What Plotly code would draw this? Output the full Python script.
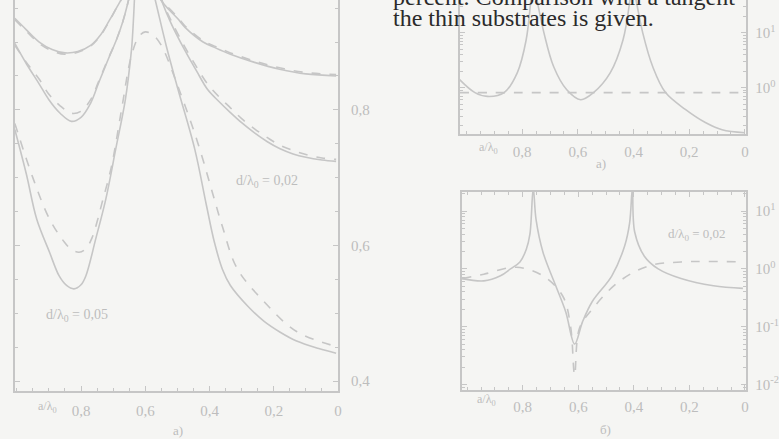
import plotly.graph_objects as go

# ---------------- data ----------------
# left panel (a): normalised value vs a/λ0, linear y
A_x = [1.006, 0.97, 0.93, 0.89, 0.85, 0.81, 0.77, 0.74, 0.714, 0.69, 0.662, 0.615,
       0.569, 0.54, 0.50, 0.477, 0.42, 0.38, 0.335, 0.26, 0.182, 0.10, 0.006]
A_solid = [0.935, 0.918, 0.900, 0.889, 0.884, 0.886, 0.895, 0.910, 0.930, 0.950, 0.975, 1.04,
           0.975, 0.955, 0.935, 0.922, 0.900, 0.891, 0.882, 0.870, 0.860, 0.853, 0.850]
A_dash = [0.933, 0.916, 0.898, 0.887, 0.882, 0.885, 0.894, 0.909, 0.929, 0.950, 0.975, 1.04,
          0.976, 0.957, 0.937, 0.924, 0.902, 0.893, 0.884, 0.872, 0.862, 0.855, 0.852]

B_x = [1.006, 0.97, 0.93, 0.90, 0.865, 0.83, 0.80, 0.77, 0.745, 0.715, 0.69, 0.67, 0.652, 0.61,
       0.55, 0.52, 0.477, 0.44, 0.406, 0.37, 0.335, 0.30, 0.26, 0.22, 0.182, 0.14, 0.10, 0.05, 0.006]
B_solid = [0.898, 0.868, 0.838, 0.815, 0.795, 0.783, 0.789, 0.810, 0.840, 0.875, 0.903, 0.930, 0.962, 1.05,
           0.962, 0.928, 0.888, 0.857, 0.830, 0.812, 0.796, 0.781, 0.766, 0.753, 0.743, 0.735, 0.730, 0.726, 0.724]
B_dash = [0.895, 0.870, 0.845, 0.823, 0.806, 0.795, 0.798, 0.815, 0.842, 0.876, 0.903, 0.930, 0.962, 1.05,
          0.964, 0.932, 0.893, 0.863, 0.838, 0.819, 0.803, 0.787, 0.772, 0.759, 0.748, 0.740, 0.734, 0.729, 0.727]

C_x = [1.006, 0.97, 0.938, 0.898, 0.868, 0.845, 0.822, 0.800, 0.785, 0.754, 0.723, 0.692, 0.662, 0.643, 0.615,
       0.569, 0.535, 0.498, 0.446, 0.41, 0.385, 0.36, 0.335, 0.28, 0.23, 0.18, 0.129, 0.06, 0.006]
C_solid = [0.771, 0.705, 0.639, 0.590, 0.555, 0.541, 0.536, 0.542, 0.555, 0.610, 0.668, 0.742, 0.815, 0.888, 1.05,
           0.962, 0.895, 0.830, 0.742, 0.660, 0.605, 0.565, 0.541, 0.510, 0.488, 0.472, 0.459, 0.448, 0.441]
Cd_x = [1.006, 0.95, 0.898, 0.852, 0.830, 0.806, 0.785, 0.765, 0.75, 0.735, 0.705, 0.674, 0.643, 0.620, 0.60,
        0.575, 0.55, 0.498, 0.437, 0.385, 0.36, 0.314, 0.23, 0.129, 0.006]
C_dash = [0.78, 0.70, 0.639, 0.605, 0.594, 0.590, 0.595, 0.612, 0.635, 0.662, 0.717, 0.80, 0.880, 0.908, 0.915,
          0.910, 0.895, 0.834, 0.752, 0.668, 0.628, 0.566, 0.517, 0.473, 0.451]

# upper right panel (a): log y
U_x = [1.025, 0.97, 0.925, 0.865, 0.818, 0.786, 0.769, 0.762, 0.747, 0.722, 0.687, 0.64, 0.59, 0.544,
       0.484, 0.438, 0.413, 0.405, 0.391, 0.367, 0.331, 0.285, 0.214, 0.142, 0.082, 0.0]
U_solid = [1.40, 0.81, 0.69, 0.81, 1.86, 7.4, 40.0, 100.0, 40.0, 10.0, 2.4, 0.91, 0.60, 0.81,
           1.86, 7.4, 40.0, 100.0, 40.0, 10.0, 2.4, 0.81, 0.40, 0.23, 0.17, 0.15]
U_dx = [1.025, 0.8, 0.6, 0.4, 0.2, 0.0]
U_dash = [0.81, 0.81, 0.81, 0.81, 0.81, 0.81]

# lower right panel (б): log y
L_x = [1.018, 0.94, 0.88, 0.844, 0.81, 0.787, 0.774, 0.762, 0.752, 0.727, 0.681, 0.645, 0.613,
       0.585, 0.55, 0.479, 0.433, 0.415, 0.405, 0.397, 0.362, 0.312, 0.23, 0.113, 0.007]
L_solid = [0.68, 0.62, 0.76, 1.0, 1.32, 2.19, 4.0, 25.0, 7.2, 1.95, 0.51, 0.18, 0.05,
           0.12, 0.27, 0.76, 2.5, 6.3, 25.0, 4.4, 1.66, 1.0, 0.68, 0.51, 0.46]
Ld_x = [1.018, 0.94, 0.823, 0.727, 0.656, 0.628, 0.613, 0.596, 0.55, 0.454, 0.348, 0.23, 0.007]
L_dash = [0.68, 0.81, 1.07, 0.76, 0.34, 0.105, 0.0145, 0.093, 0.20, 0.60, 1.12, 1.32, 1.32]

x_ticks = [0, 0.2, 0.4, 0.6, 0.8]
x_ticktext = ["0", "0,2", "0,4", "0,6", "0,8"]
y_ticks_lin = [0.4, 0.6, 0.8]
y_ticktext_lin = ["0,4", "0,6", "0,8"]
y_ticks_up = [1, 10]
y_ticktext_up = ["10<sup>0</sup>", "10<sup>1</sup>"]
y_ticks_low = [0.01, 0.1, 1, 10]
y_ticktext_low = ["10<sup>-2</sup>", "10<sup>-1</sup>", "10<sup>0</sup>", "10<sup>1</sup>"]

page_lines = ["percent. Comparison with a tangent", "the thin substrates is given."]

# ---------------- style ----------------
W, H = 779, 439
BG = "#f5f5f3"
LC = "#c6c6c6"
TC = "#bdbdbd"
FONT = "Liberation Serif"


def px_x(p):
    return p / W


def px_y(p):
    return (H - p) / H


fig = go.Figure()


def curve(x, y, xa, ya, dash=False):
    fig.add_trace(go.Scatter(
        x=x, y=y, xaxis=xa, yaxis=ya, mode="lines",
        line=dict(color=LC, width=1.6, dash="dash" if dash else "solid",
                  shape="spline", smoothing=1.0),
        hoverinfo="skip", showlegend=False))


curve(A_x, A_solid, "x", "y")
curve(A_x, A_dash, "x", "y", True)
curve(B_x, B_solid, "x", "y")
curve(B_x, B_dash, "x", "y", True)
curve(C_x, C_solid, "x", "y")
curve(Cd_x, C_dash, "x", "y", True)

curve(U_x, U_solid, "x2", "y2")
curve(U_dx, U_dash, "x2", "y2", True)

curve(L_x, L_solid, "x3", "y3")
curve(Ld_x, L_dash, "x3", "y3", True)

axis_common = dict(showgrid=False, zeroline=False, showline=True, linecolor=LC, linewidth=1.8,
                   ticks="inside", tickcolor=LC, ticklen=5,
                   tickfont=dict(family=FONT, size=15, color=TC))

fig.update_layout(
    width=W, height=H, margin=dict(l=0, r=0, t=0, b=0),
    paper_bgcolor=BG, plot_bgcolor=BG, showlegend=False,
    xaxis=dict(domain=[px_x(15), px_x(342)], range=[1.006, 0], anchor="y",
               tickvals=x_ticks, ticktext=x_ticktext, ticklabelstandoff=5,
               minor=dict(ticks="inside", dtick=0.05, tickcolor=LC, ticklen=3),
               **axis_common),
    yaxis=dict(domain=[px_y(393), 1.0], range=[0.385, 0.962], anchor="x", side="right", mirror="ticks",
               tickvals=y_ticks_lin, ticktext=y_ticktext_lin, ticklabelstandoff=8,
               minor=dict(ticks="inside", dtick=0.05, tickcolor=LC, ticklen=3),
               **axis_common),
    xaxis2=dict(domain=[px_x(465), px_x(755)], range=[1.025, -0.005], anchor="y2",
                tickvals=x_ticks, ticktext=x_ticktext, ticklabelstandoff=3,
                minor=dict(ticks="inside", dtick=0.05, tickcolor=LC, ticklen=3),
                **axis_common),
    yaxis2=dict(domain=[px_y(135), 1.0], type="log", range=[-0.855, 1.6], anchor="x2", side="right",
                mirror="ticks", tickvals=y_ticks_up, ticktext=y_ticktext_up, ticklabelstandoff=4,
                minor=dict(ticks="inside", tickcolor=LC, ticklen=3, dtick="D1"),
                **axis_common),
    xaxis3=dict(domain=[px_x(467), px_x(755)], range=[1.02, -0.005], anchor="y3", mirror="ticks",
                tickvals=x_ticks, ticktext=x_ticktext, ticklabelstandoff=2,
                minor=dict(ticks="inside", dtick=0.05, tickcolor=LC, ticklen=3),
                **axis_common),
    yaxis3=dict(domain=[px_y(392), px_y(193)], type="log", range=[-2.1, 1.33], anchor="x3", side="right",
                mirror="ticks", tickvals=y_ticks_low, ticktext=y_ticktext_low, ticklabelstandoff=4,
                minor=dict(ticks="inside", tickcolor=LC, ticklen=3, dtick="D1"),
                **axis_common),
)

anns = [
    # axis titles
    dict(text="a/λ<sub>0</sub>", x=px_x(48), y=px_y(409), size=12),
    dict(text="a/λ<sub>0</sub>", x=px_x(494), y=px_y(149), size=12),
    dict(text="a/λ<sub>0</sub>", x=px_x(492), y=px_y(402), size=12),
    # panel labels
    dict(text="а)", x=px_x(180), y=px_y(432), size=13),
    dict(text="а)", x=px_x(608), y=px_y(164), size=13),
    dict(text="б)", x=px_x(613), y=px_y(431), size=13),
    # parameter labels
    dict(text="d/λ<sub>0</sub> = 0,02", x=px_x(270), y=px_y(182), size=14),
    dict(text="d/λ<sub>0</sub> = 0,05", x=px_x(78), y=px_y(317), size=14),
    dict(text="d/λ<sub>0</sub> = 0,02", x=px_x(705), y=px_y(236), size=13),
]
for a in anns:
    fig.add_annotation(text=a["text"], x=a["x"], y=a["y"], xref="paper", yref="paper",
                       xanchor="center", yanchor="middle", showarrow=False,
                       font=dict(family=FONT, size=a["size"], color=TC))

# page text printed on top (first line is cut by the top edge of the scan)
fig.add_annotation(text=page_lines[0], x=px_x(396), y=px_y(-3),
                   xref="paper", yref="paper", xanchor="left", yanchor="middle", showarrow=False,
                   font=dict(family=FONT, size=24, color="#2a2a2a"))
fig.add_annotation(text=page_lines[1], x=px_x(396), y=px_y(18),
                   xref="paper", yref="paper", xanchor="left", yanchor="middle", showarrow=False,
                   font=dict(family=FONT, size=24, color="#2a2a2a"))

fig.write_html("out.html")
